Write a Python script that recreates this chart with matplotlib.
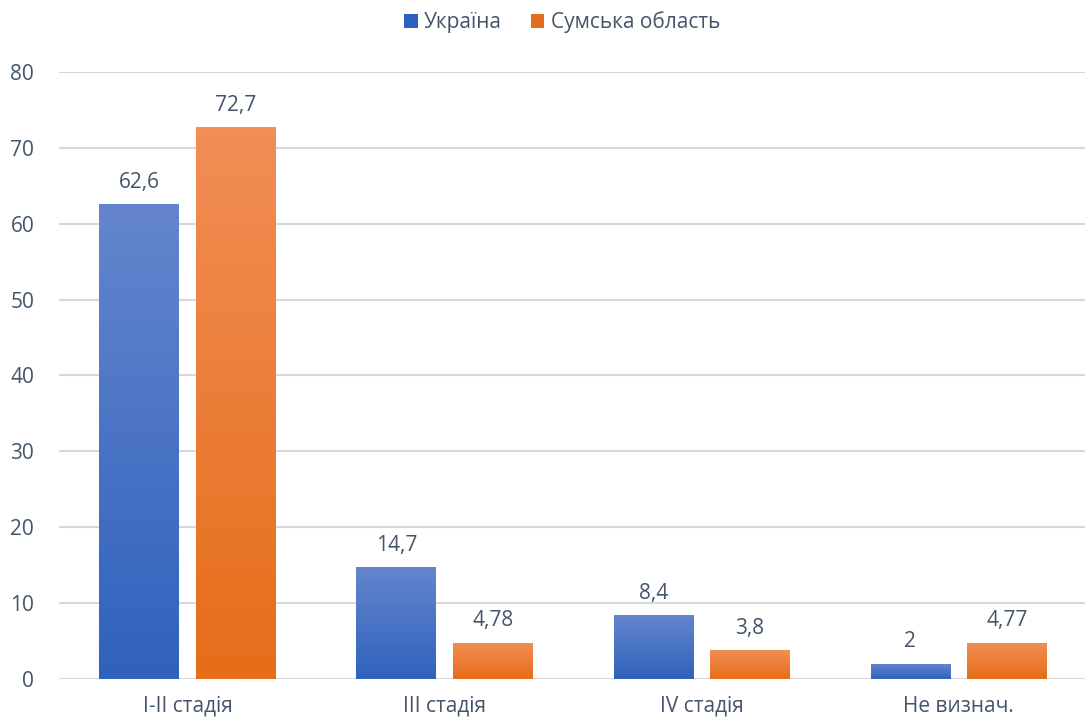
import numpy as np
import matplotlib.pyplot as plt
from matplotlib.colors import LinearSegmentedColormap
from matplotlib.patches import Patch

plt.rcParams['font.family'] = ['Open Sans', 'DejaVu Sans']

categories = ['I-II стадія', 'III стадія', 'IV стадія', 'Не визнач.']
ukraine = [62.6, 14.7, 8.4, 2]
sumy = [72.7, 4.78, 3.8, 4.77]
series_names = ['Україна', 'Сумська область']

text_color = '#44546A'
grid_color = '#D9D9D9'
# (top colour, bottom colour) for each series gradient
gradients = [('#6585CE', '#2F62BD'), ('#F28E56', '#E66D19')]


def fmt(v):
    return ('%g' % v).replace('.', ',')


def gradient_bars(ax, x, heights, width, colors):
    cmap = LinearSegmentedColormap.from_list('g', [colors[1], colors[0]])
    bars = ax.bar(x, heights, width, color='none', edgecolor='none')
    for rect in bars:
        x0, w, h = rect.get_x(), rect.get_width(), rect.get_height()
        grad = np.linspace(0, 1, 256).reshape(-1, 1)
        im = ax.imshow(grad, cmap=cmap, origin='lower', aspect='auto',
                       extent=(x0, x0 + w, 0, h), zorder=2)
        im.set_clip_path(rect)
    return bars


fig = plt.figure(figsize=(10.85, 7.22), dpi=100)
ax = fig.add_axes([0.0545, 0.0596, 0.9475, 0.8407])

x = np.arange(len(categories))
w = 0.31
gap = 0.066
offsets = [-(w + gap) / 2, (w + gap) / 2]

for vals, off, cols in zip([ukraine, sumy], offsets, gradients):
    gradient_bars(ax, x + off, vals, w, cols)
    for xi, v in zip(x + off, vals):
        ax.text(xi, v + 1.5, fmt(v), ha='center', va='bottom',
                fontsize=15, color=text_color)

ax.set_xlim(-0.5, len(categories) - 0.5)
ax.set_ylim(0, 80)
ax.set_yticks(range(0, 81, 10))
ax.set_xticks(x)
ax.set_xticklabels(categories)
ax.tick_params(length=0, labelsize=15, labelcolor=text_color)
ax.tick_params(axis='x', pad=12)
ax.tick_params(axis='y', pad=18)
for lbl in ax.get_yticklabels():
    lbl.set_horizontalalignment('right')
ax.grid(axis='y', color=grid_color, linewidth=1.5, zorder=0)
ax.set_axisbelow(True)
for s in ax.spines.values():
    s.set_visible(False)

handles = [Patch(facecolor=c[1], edgecolor='none') for c in gradients]
fig.legend(handles, series_names, loc='upper center', ncol=2,
           bbox_to_anchor=(0.518, 1.01), frameon=False, fontsize=15,
           labelcolor=text_color, handlelength=0.65, handleheight=0.65,
           handletextpad=0.3, columnspacing=1.4)

fig.savefig('out.png', dpi=100)
